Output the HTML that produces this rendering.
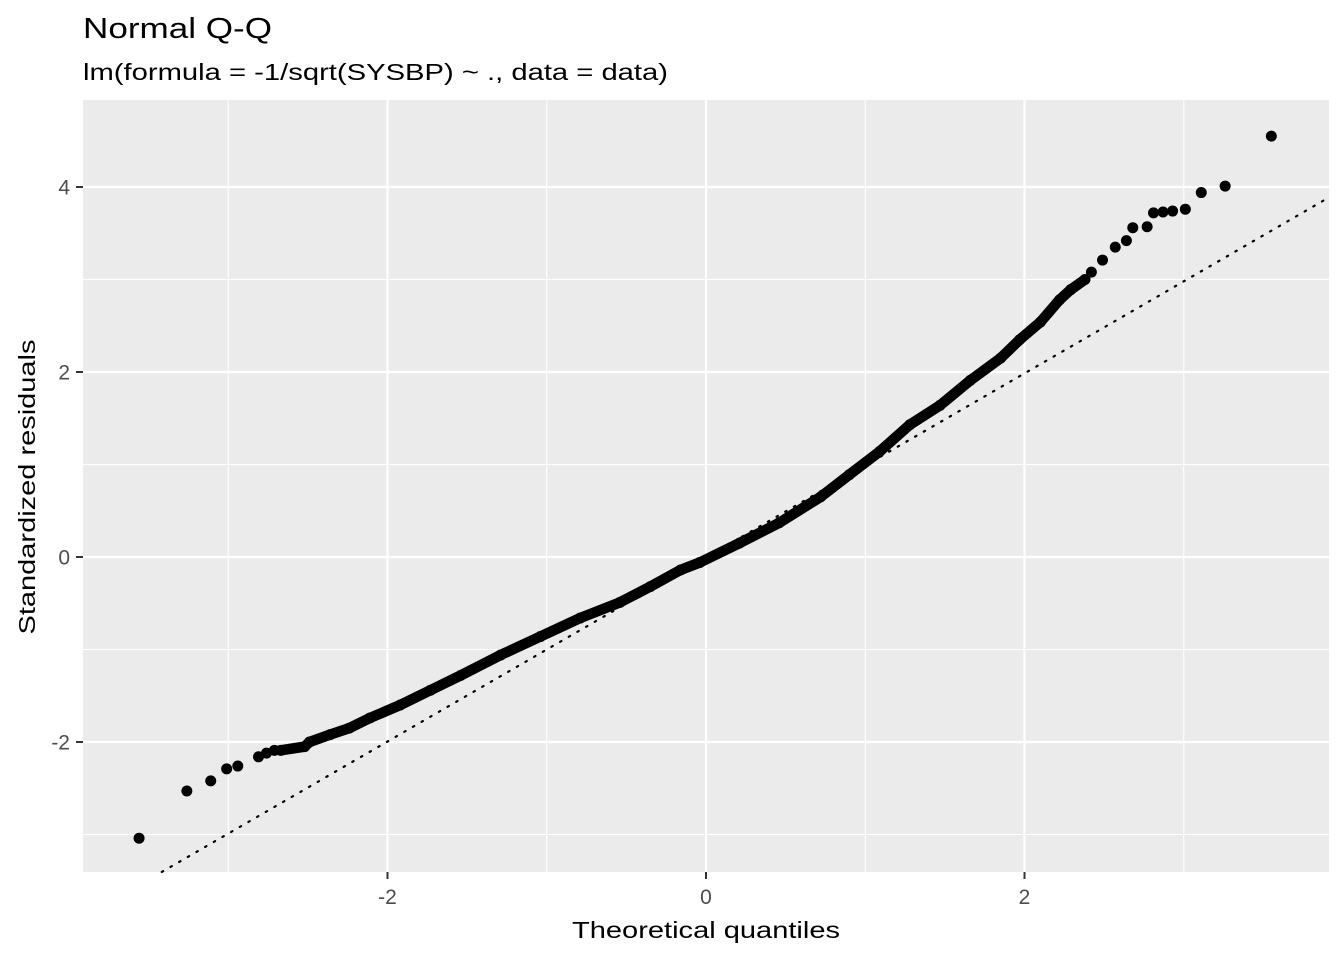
<!DOCTYPE html>
<html><head><meta charset="utf-8"><style>
html,body{margin:0;padding:0;background:#fff;}
svg{display:block;font-family:"Liberation Sans",Arial,sans-serif;}
</style></head><body>
<svg id="chart" width="1344" height="960" xmlns="http://www.w3.org/2000/svg">
<rect width="1344" height="960" fill="#fff"/>
<text x="83" y="38" font-size="29" textLength="189" lengthAdjust="spacingAndGlyphs" fill="#000">Normal Q-Q</text>
<text x="83" y="80" font-size="23" textLength="585" lengthAdjust="spacingAndGlyphs" fill="#000">lm(formula = -1/sqrt(SYSBP) ~ ., data = data)</text>
<rect x="83" y="100" width="1246" height="772" fill="#ebebeb"/>
<g id="grid"></g>
<g id="refline"></g>
<g id="points"></g>
<g id="axes"></g>
<text x="706" y="938" font-size="23" text-anchor="middle" textLength="268" lengthAdjust="spacingAndGlyphs" fill="#000">Theoretical quantiles</text>
<text transform="translate(35,487) rotate(-90)" font-size="23" text-anchor="middle" textLength="295" lengthAdjust="spacingAndGlyphs" fill="#000">Standardized residuals</text>
</svg>
<script>
const xMajor=[-2,0,2];
const xMinor=[-3,-1,1,3];
const yMajor=[-2,0,2,4];
const yMinor=[-3,-1,1,3];
const xTickLabels=["-2","0","2"];
const yTickLabels=["-2","0","2","4"];
const qqSlope=0.995;
const qqIntercept=-0.005;
const denseX=[-2.67,-2.52,-2.49,-2.36,-2.24,-2.11,-1.92,-1.73,-1.54,-1.29,-1.04,-0.79,-0.54,-0.35,-0.16,-0.04,0.21,0.46,0.72,0.90,1.09,1.28,1.47,1.66,1.85,1.97,2.10,2.22,2.29,2.38];
const denseY=[-2.09,-2.05,-2.0,-1.92,-1.85,-1.74,-1.60,-1.44,-1.28,-1.06,-0.86,-0.66,-0.49,-0.32,-0.14,-0.06,0.15,0.37,0.65,0.89,1.14,1.43,1.64,1.91,2.15,2.35,2.54,2.78,2.89,3.0];
const tailX=[-3.56,-3.26,-3.11,-3.01,-2.94,-2.81,-2.76,-2.71,2.42,2.49,2.57,2.64,2.68,2.77,2.81,2.87,2.93,3.01,3.11,3.26,3.55];
const tailY=[-3.04,-2.53,-2.42,-2.29,-2.26,-2.16,-2.12,-2.09,3.08,3.21,3.35,3.42,3.56,3.57,3.72,3.73,3.74,3.76,3.94,4.01,4.55];

const NS="http://www.w3.org/2000/svg";
const X0=83,X1=1329,Y0=100,Y1=872;
const xMin=-3.912,xMax=3.912,yMin=-3.405,yMax=4.94;
function sx(v){return 706+v*159.25;}
function sy(v){return 557-v*92.5;}
function mk(tag,attrs,parent){const e=document.createElementNS(NS,tag);for(const k in attrs)e.setAttribute(k,attrs[k]);parent.appendChild(e);return e;}
const grid=document.getElementById('grid');
xMinor.forEach(v=>{const l=mk('line',{x1:sx(v),x2:sx(v),y1:Y0,y2:Y1,stroke:'#fff','stroke-width':1.1},grid);

});
yMinor.forEach(v=>{const l=mk('line',{x1:X0,x2:X1,y1:sy(v),y2:sy(v),stroke:'#fff','stroke-width':1.1},grid);

});
xMajor.forEach(v=>{const l=mk('line',{x1:sx(v),x2:sx(v),y1:Y0,y2:Y1,stroke:'#fff','stroke-width':2.2},grid);

});
yMajor.forEach(v=>{const l=mk('line',{x1:X0,x2:X1,y1:sy(v),y2:sy(v),stroke:'#fff','stroke-width':2.2},grid);

});
const rl=document.getElementById('refline');
let ax=xMin,ay=qqIntercept+qqSlope*ax;if(ay<yMin){ay=yMin;ax=(ay-qqIntercept)/qqSlope;}
let bx=xMax,by=qqIntercept+qqSlope*bx;if(by>yMax){by=yMax;bx=(by-qqIntercept)/qqSlope;}
const ref=mk('line',{x1:sx(ax),y1:sy(ay),x2:sx(bx),y2:sy(by),stroke:'#000','stroke-width':2.2,'stroke-dasharray':'1.5,8.5','stroke-linecap':'round'},rl);


const pts=document.getElementById('points');
const pl=mk('polyline',{points:denseX.map((v,i)=>sx(v)+','+sy(denseY[i])).join(' '),fill:'none',stroke:'#000','stroke-width':10.5,'stroke-linecap':'round','stroke-linejoin':'round'},pts);


denseX.forEach((v,i)=>{const c=mk('circle',{cx:sx(v),cy:sy(denseY[i]),r:5.5,fill:'#000'},pts);

});
tailX.forEach((v,i)=>{const c=mk('circle',{cx:sx(v),cy:sy(tailY[i]),r:5.5,fill:'#000'},pts);

});
const axes=document.getElementById('axes');
xMajor.forEach((v,i)=>{const t=mk('line',{x1:sx(v),x2:sx(v),y1:Y1,y2:Y1+7,stroke:'#333','stroke-width':2},axes);


const tx=mk('text',{x:sx(v),y:904,'font-size':21,'text-anchor':'middle',fill:'#4d4d4d'},axes);tx.textContent=xTickLabels[i];

});
yMajor.forEach((v,i)=>{const t=mk('line',{x1:X0-7,x2:X0,y1:sy(v),y2:sy(v),stroke:'#333','stroke-width':2},axes);


const tx=mk('text',{x:70,y:sy(v)+7.5,'font-size':21,'text-anchor':'end',fill:'#4d4d4d'},axes);tx.textContent=yTickLabels[i];

});
</script>
</body></html>
